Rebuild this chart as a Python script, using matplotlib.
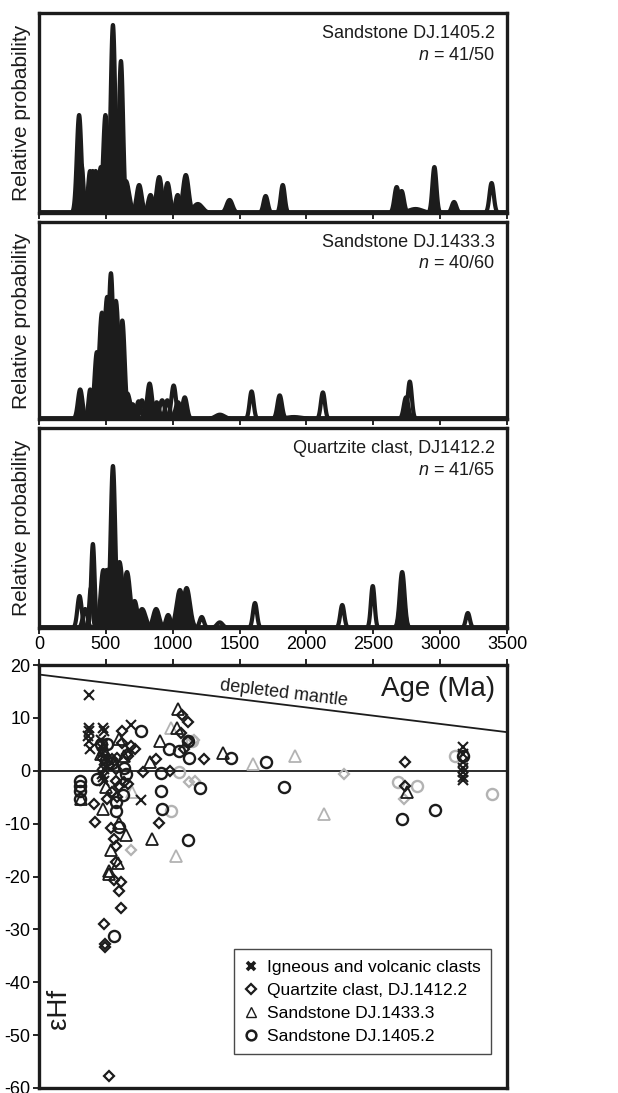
import numpy as np
import matplotlib
matplotlib.use("Agg")
import matplotlib.pyplot as plt
from matplotlib.lines import Line2D

plt.rcParams['font.family'] = ['Liberation Sans', 'DejaVu Sans']
plt.rcParams['mathtext.fontset'] = 'custom'
plt.rcParams['mathtext.it'] = 'Liberation Sans:italic'
plt.rcParams['mathtext.rm'] = 'Liberation Sans'
plt.rcParams['axes.unicode_minus'] = False

# ---- probability density peaks: age (Ma), relative height, sigma (Ma), filled?
p1405_age = [300, 318, 382, 402, 424, 463, 497, 525, 553, 585, 613, 650, 749, 834, 899, 961,
             1037, 1098, 1188, 1425, 1695, 1823, 2675, 2712, 2816, 2957, 3104, 3385]
p1405_h = [0.49, 0.24, 0.21, 0.21, 0.21, 0.23, 0.49, 0.42, 0.94, 0.45, 0.76, 0.16, 0.14, 0.09, 0.18, 0.15,
           0.09, 0.19, 0.045, 0.065, 0.085, 0.14, 0.13, 0.11, 0.02, 0.23, 0.055, 0.15]
p1405_s = [17, 14, 15, 15, 15, 18, 17, 20, 17, 26, 16, 24, 19, 18, 20, 19,
           16, 21, 34, 22, 16, 15, 17, 17, 50, 15, 17, 16]
p1405_fill = [1, 1, 1, 1, 1, 1, 1, 1, 1, 1, 1, 1, 1, 1, 1, 1,
              1, 1, 1, 1, 1, 1, 1, 1, 0, 1, 1, 0]

p1433_age = [308, 383, 433, 471, 510, 538, 575, 623, 660, 700, 745, 770, 827, 880, 921, 960,
             1007, 1040, 1090, 1353, 1590, 1800, 1905, 2123, 2745, 2773]
p1433_h = [0.15, 0.15, 0.34, 0.54, 0.62, 0.74, 0.60, 0.50, 0.13, 0.075, 0.09, 0.095, 0.18, 0.085, 0.095, 0.095,
           0.17, 0.085, 0.11, 0.022, 0.14, 0.12, 0.01, 0.135, 0.11, 0.19]
p1433_s = [17, 13, 18, 22, 24, 18, 22, 18, 23, 21, 16, 16, 18, 18, 19, 17,
           17, 19, 17, 34, 15, 17, 60, 15, 17, 15]
p1433_fill = [1, 1, 1, 1, 1, 1, 1, 1, 1, 1, 0, 0, 1, 1, 0, 0,
              0, 1, 1, 1, 0, 1, 0, 0, 1, 0]

p1412_age = [303, 345, 388, 403, 481, 505, 530, 553, 602, 658, 715, 771, 876, 966, 1054, 1104,
             1217, 1352, 1615, 2268, 2496, 2716, 2716, 3207]
p1412_h = [0.16, 0.095, 0.20, 0.42, 0.29, 0.29, 0.30, 0.81, 0.33, 0.28, 0.135, 0.095, 0.095, 0.065, 0.19, 0.20,
           0.055, 0.028, 0.125, 0.115, 0.21, 0.28, 0.19, 0.075]
p1412_s = [16, 17, 12, 13, 20, 20, 20, 17, 24, 24, 20, 26, 22, 17, 25, 25,
           16, 22, 15, 15, 14, 18, 18, 15]
p1412_fill = [0, 0, 0, 0, 0, 1, 1, 1, 1, 1, 1, 1, 1, 1, 1, 1,
              0, 0, 0, 0, 0, 0, 1, 0]

panel_labels = ['Sandstone DJ.1405.2\n$n$ = 41/50',
                'Sandstone DJ.1433.3\n$n$ = 40/60',
                'Quartzite clast, DJ1412.2\n$n$ = 41/65']

# ---- epsilon Hf data
ign_age = [375, 375, 375, 367, 375, 382, 475, 487, 462, 475, 480, 470, 490, 478, 485, 472, 480, 488,
           687, 762, 3170, 3170, 3170, 3170, 3170, 3170, 3170]
ign_hf = [14.4, 8.1, 7.5, 6.6, 5.6, 4.1, 8.1, 7.5, 5.9, 5.0, 4.1, 3.1, 2.2, 1.2, 0.3, -0.6, -1.2, -1.9,
          8.7, -5.6, 4.4, 3.1, 1.6, 0.6, -0.3, -1.2, -1.7]

qtz_age = [617, 617, 687, 717, 662, 587, 575, 600, 662, 587, 875, 775, 982, 1067, 1117, 1062, 1082,
           1232, 2737, 2737, 420, 412, 511, 545, 576, 633, 541, 558, 579, 575, 901, 660, 558, 612, 601,
           612, 487, 492, 492, 525, 1117, 522, 548]
qtz_hf = [7.5, 5.3, 4.6, 4.1, 2.8, 2.5, 0.3, -2.8, -2.5, -5.0, 2.2, -0.3, 0.0, 10.6, 9.2, 7.2, 4.2,
          2.2, 1.6, -2.8, -9.7, -6.3, -5.4, -4.1, -1.9, -2.2, -10.8, -13.0, -14.3, -17.2, -9.8, 3.2, -20.6, -21.0, -22.7,
          -26.0, -28.9, -32.7, -33.4, -57.8, 5.6, 1.0, 2.2]
qtz_grey_age = [1157, 2282, 2732, 688, 1122, 1170]
qtz_grey_hf = [5.9, -0.6, -5.3, -15.0, -2.2, -1.9]

sst33_age = [1037, 1032, 907, 832, 600, 637, 1375, 2750, 462, 487, 312, 481, 650, 842, 537, 590, 522, 527, 600, 500]
sst33_hf = [11.7, 8.1, 5.6, 1.6, 6.0, 2.8, 3.4, -4.1, 3.1, 4.0, -5.3, -7.3, -12.1, -12.9, -15.0, -17.5, -19.5, -19.0, -9.8, -3.0]
sst33_grey_age = [987, 1600, 1912, 2132, 692, 1023]
sst33_grey_hf = [8.1, 1.25, 2.7, -8.1, -4.1, -16.2]

sst05_age = [307, 307, 307, 310, 436, 512, 462, 576, 595, 637, 650, 762, 912, 912, 922, 975, 1050,
             1125, 1112, 1207, 1112, 1437, 1700, 1832, 2712, 2962, 3170, 558, 575, 625, 545, 500]
sst05_hf = [-1.9, -2.9, -3.8, -5.4, -1.6, 5.0, 5.0, -7.6, -10.6, 0.6, -0.6, 7.5, -0.4, -3.8, -7.2, 4.1, 3.75,
            2.5, 5.6, -3.3, -13.1, 2.5, 1.6, -3.0, -9.2, -7.5, 2.8, -31.3, -6.0, -4.5, 1.5, 2.0]
sst05_grey_age = [3112, 2687, 2825, 3387, 985, 1045, 1142]
sst05_grey_hf = [2.8, -2.2, -2.8, -4.4, -7.6, -0.2, 5.6]

dm_age = [0, 3500]
dm_hf = [18.2, 7.3]

dark = '#1c1c1c'
grey = '#b3b3b3'

fig = plt.figure(figsize=(6.18, 10.93), dpi=100)
W, H = 618, 1093


def add_ax(top, bottom, left=39, right=507):
    return fig.add_axes([left / W, 1 - bottom / H, (right - left) / W, (bottom - top) / H])


ax1 = add_ax(13, 213)
ax2 = add_ax(222, 419)
ax3 = add_ax(428, 628)
ax4 = add_ax(665, 1088)

xs = np.linspace(0, 3500, 3501)
pdp = [(p1405_age, p1405_h, p1405_s, p1405_fill),
       (p1433_age, p1433_h, p1433_s, p1433_fill),
       (p1412_age, p1412_h, p1412_s, p1412_fill)]

for ax, (ages, hs, ss, fl), lab in zip([ax1, ax2, ax3], pdp, panel_labels):
    # filled grains first, outlines on top
    for a, h, s, f in zip(ages, hs, ss, fl):
        y = h * np.exp(-0.5 * ((xs - a) / s) ** 2)
        if f:
            ax.fill_between(xs, 0, y, color=dark, lw=0)
    for a, h, s, f in zip(ages, hs, ss, fl):
        y = h * np.exp(-0.5 * ((xs - a) / s) ** 2)
        m = y > 0.002
        ax.plot(xs[m], y[m], color=dark, lw=3.0, solid_capstyle='round')
    ax.axhline(0.006, color=dark, lw=2.8)
    ax.set_xlim(0, 3500)
    ax.set_ylim(0, 1.0)
    ax.set_yticks([])
    ax.set_xticks(range(0, 3501, 500))
    ax.tick_params(axis='x', direction='out', length=4, width=1.2, labelsize=13, pad=2)
    for sp in ax.spines.values():
        sp.set_linewidth(2.4)
        sp.set_color(dark)
    ax.set_ylabel('Relative probability', fontsize=15, color=dark)
    ax.yaxis.set_label_coords(-0.018, 0.5)
    ax.text(0.975, 0.94, lab, transform=ax.transAxes, ha='right', va='top',
            fontsize=13, linespacing=1.35, color=dark)

ax1.tick_params(labelbottom=False)
ax2.tick_params(labelbottom=False)

# ---- epsilon Hf panel
ax4.plot(dm_age, dm_hf, color=dark, lw=1.3)
ax4.axhline(0, color=dark, lw=1.3)
ax4.text(1830, 14.6, 'depleted mantle', rotation=-7, ha='center', va='center', fontsize=13, color=dark)
ax4.text(0.975, 0.975, 'Age (Ma)', transform=ax4.transAxes, ha='right', va='top', fontsize=20, color=dark)
ax4.text(150, -45, 'εHf', rotation=90, ha='center', va='center', fontsize=20, color=dark)

mk = dict(ls='none', mfc='none')
ax4.plot(sst05_grey_age, sst05_grey_hf, marker='o', ms=8, mew=1.7, mec=grey, **mk)
ax4.plot(sst33_grey_age, sst33_grey_hf, marker='^', ms=8.5, mew=1.3, mec=grey, **mk)
ax4.plot(qtz_grey_age, qtz_grey_hf, marker='D', ms=5.5, mew=1.6, mec=grey, **mk)
ax4.plot(sst05_age, sst05_hf, marker='o', ms=8, mew=1.7, mec=dark, **mk)
ax4.plot(sst33_age, sst33_hf, marker='^', ms=8.5, mew=1.3, mec=dark, **mk)
ax4.plot(qtz_age, qtz_hf, marker='D', ms=5.5, mew=1.6, mec=dark, **mk)
ax4.plot(ign_age, ign_hf, marker='x', ms=7, mew=1.5, mec=dark, **mk)

ax4.set_xlim(0, 3500)
ax4.set_ylim(-60, 20)
ax4.set_yticks(range(-60, 21, 10))
ax4.set_xticks(range(0, 3501, 500))
ax4.xaxis.tick_top()
ax4.tick_params(axis='x', direction='out', length=4, width=1.2, labeltop=False)
ax4.tick_params(axis='y', direction='out', length=4, width=1.2, labelsize=13, pad=2)
for sp in ax4.spines.values():
    sp.set_linewidth(2.4)
    sp.set_color(dark)

handles = [
    Line2D([], [], ls='none', marker='x', ms=6, mew=2.6, color=dark),
    Line2D([], [], ls='none', marker='D', ms=5, mew=1.6, mfc='none', mec=dark),
    Line2D([], [], ls='none', marker='^', ms=7, mew=1.0, mfc='none', mec=dark),
    Line2D([], [], ls='none', marker='o', ms=7, mew=1.8, mfc='none', mec=dark),
]
labels = ['Igneous and volcanic clasts', 'Quartzite clast, DJ.1412.2',
          'Sandstone DJ.1433.3', 'Sandstone DJ.1405.2']
leg = ax4.legend(handles, labels, loc='lower right', bbox_to_anchor=(0.966, 0.08),
                 borderaxespad=0, fontsize=12.5, frameon=True, fancybox=False,
                 handlelength=0.8, handletextpad=0.5, labelspacing=0.45, borderpad=0.6)
leg.get_frame().set_edgecolor(dark)
leg.get_frame().set_linewidth(1.0)

fig.savefig('out.png', dpi=100)
